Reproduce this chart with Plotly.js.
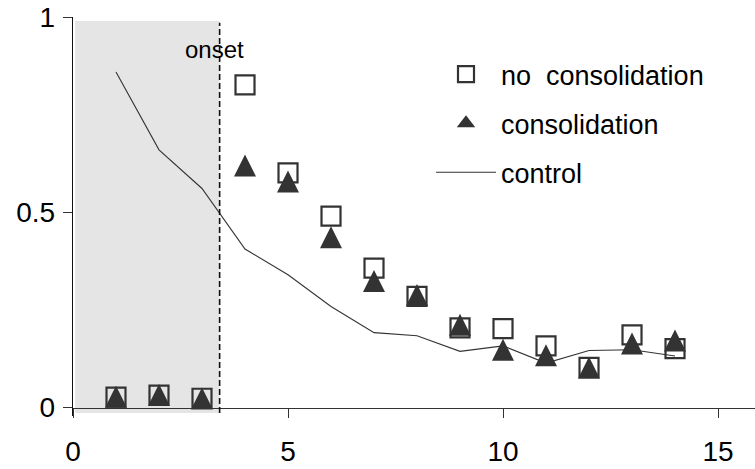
<!DOCTYPE html>
<html>
<head>
<meta charset="utf-8">
<script src="https://cdn.plot.ly/plotly-3.0.1.min.js"></script>
<style>html,body{margin:0;padding:0;background:#fff;}#chart{width:755px;height:469px;}</style>
</head>
<body>
<div id="chart"></div>
<script>
// Data
var xDays = [1, 2, 3, 4, 5, 6, 7, 8, 9, 10, 11, 12, 13, 14];
var noConsolidation = [0.027, 0.032, 0.024, 0.826, 0.601, 0.490, 0.357, 0.285, 0.204, 0.202, 0.158, 0.103, 0.186, 0.151];
var consolidation = [0.028, 0.032, 0.023, 0.620, 0.579, 0.436, 0.324, 0.288, 0.212, 0.148, 0.134, 0.102, 0.164, 0.172];
var control = [0.859, 0.660, 0.561, 0.406, 0.340, 0.259, 0.192, 0.184, 0.144, 0.158, 0.114, 0.146, 0.148, 0.132];
var onsetX = 3.41;
var xTicks = [0, 5, 10, 15];
var yTicks = [0, 0.5, 1];
var seriesNames = ['no  consolidation', 'consolidation', 'control'];

var ink = '#333333';
var font = 'Liberation Sans, Arial, Helvetica, sans-serif';
var yMin = -0.0215, yMax = 1.0;
var triSize = 22;

var traces = [
  {
    x: xDays, y: noConsolidation, name: seriesNames[0], legendgroup: 'a',
    type: 'scatter', mode: 'markers', cliponaxis: false,
    marker: {symbol: 'square-open', size: 19, color: ink, line: {width: 2.2, color: ink}}
  },
  {
    x: xDays, y: consolidation, name: seriesNames[1], legendgroup: 'b', showlegend: false,
    type: 'scatter', mode: 'markers', cliponaxis: false,
    marker: {symbol: 'arrow-down', angle: 180, standoff: triSize / 2,
             size: triSize, color: ink, line: {width: 0}}
  },
  {
    // legend key for the consolidation series (no points of its own)
    x: [null], y: [null], name: seriesNames[1], legendgroup: 'b',
    type: 'scatter', mode: 'markers',
    marker: {symbol: 'triangle-up', size: 18, color: ink, line: {width: 0}}
  },
  {
    x: xDays, y: control, name: seriesNames[2], legendgroup: 'c',
    type: 'scatter', mode: 'lines', cliponaxis: false,
    line: {color: ink, width: 1.1}
  }
];

var layout = {
  width: 755, height: 469,
  margin: {l: 73, r: 0, t: 17, b: 53, pad: 0},
  paper_bgcolor: '#ffffff', plot_bgcolor: 'rgba(0,0,0,0)',
  font: {family: font, size: 27, color: '#000'},
  showlegend: true,
  legend: {
    x: (431 - 73) / 682, xref: 'paper', y: 1 - 33 / 399, yanchor: 'top',
    font: {family: font, size: 27, color: '#000'},
    bgcolor: 'rgba(0,0,0,0)', borderwidth: 0,
    itemwidth: 60, tracegroupgap: 11, traceorder: 'grouped'
  },
  xaxis: {
    range: [0, 15.86], anchor: 'free', position: (0 - yMin) / (yMax - yMin),
    tickmode: 'array', tickvals: xTicks, ticktext: xTicks.map(String),
    ticks: 'outside', ticklen: 9, tickwidth: 1, tickcolor: '#333',
    ticklabelstandoff: 10,
    showline: true, linecolor: '#333', linewidth: 1.2,
    showgrid: false, zeroline: false,
    tickfont: {family: font, size: 28, color: '#000'}
  },
  yaxis: {
    range: [yMin, yMax],
    tickmode: 'array', tickvals: yTicks, ticktext: ['0', '0.5', '1'],
    ticks: 'outside', ticklen: 9, tickwidth: 1, tickcolor: '#333',
    ticklabelstandoff: 2,
    showline: true, linecolor: '#111', linewidth: 1.2,
    showgrid: false, zeroline: false,
    tickfont: {family: font, size: 28, color: '#000'}
  },
  shapes: [
    {type: 'rect', xref: 'x', yref: 'y', x0: 0.05, x1: onsetX, y0: -0.014, y1: 0.99,
     fillcolor: '#e5e5e5', line: {width: 0}, layer: 'below'},
    {type: 'line', xref: 'x', yref: 'y', x0: onsetX, x1: onsetX, y0: -0.014, y1: 0.985,
     line: {color: '#111', width: 1.6, dash: '6px,3px'}, layer: 'above'}
  ],
  annotations: [
    {xref: 'x', yref: 'y', x: 3.3, y: 0.918, text: 'onset', showarrow: false,
     xanchor: 'center', yanchor: 'middle', font: {family: font, size: 24, color: '#000'}}
  ]
};

Plotly.newPlot('chart', traces, layout, {displayModeBar: false, staticPlot: true});
</script>
</body>
</html>
